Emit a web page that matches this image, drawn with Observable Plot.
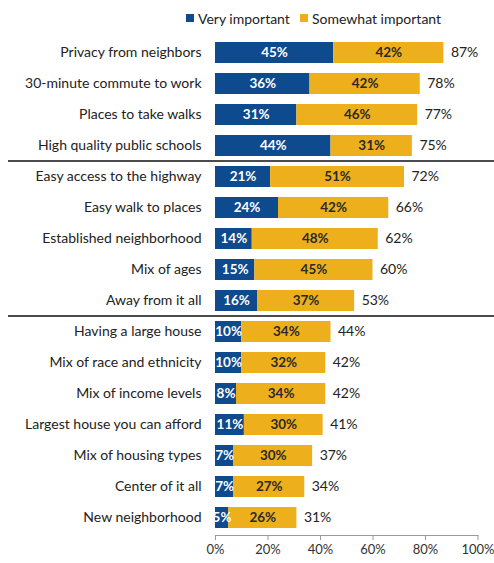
<!DOCTYPE html>
<html>
<head>
<meta charset="utf-8">
<script src="https://cdn.jsdelivr.net/npm/d3@7"></script>
<script src="https://cdn.jsdelivr.net/npm/@observablehq/plot@0.6"></script>
<style>
  body { margin: 0; background: #fff; font-family: Lato, "Open Sans", sans-serif; }
  #legend { position: relative; height: 30px; font-size: 14px; color: #222; }
  #legend .sw { width: 8px; height: 8px; display: inline-block; margin-right: 4px; }
  #legend .item { position: absolute; top: 3px; height: 30px; display: flex; align-items: center; white-space: nowrap; }
</style>
</head>
<body>
<div id="legend"></div>
<div id="chart"></div>
<script>
const categories = [
  "Privacy from neighbors", "30-minute commute to work", "Places to take walks", "High quality public schools",
  "Easy access to the highway", "Easy walk to places", "Established neighborhood", "Mix of ages", "Away from it all",
  "Having a large house", "Mix of race and ethnicity", "Mix of income levels", "Largest house you can afford",
  "Mix of housing types", "Center of it all", "New neighborhood"
];
const veryImportant     = [45, 36, 31, 44, 21, 24, 14, 15, 16, 10, 10, 8, 11, 7, 7, 5];
const somewhatImportant = [42, 42, 46, 31, 51, 42, 48, 45, 37, 34, 32, 34, 30, 30, 27, 26];
const totals            = [87, 78, 77, 75, 72, 66, 62, 60, 53, 44, 42, 42, 41, 37, 34, 31];
const groupEnds = ["High quality public schools", "Away from it all"];
const levels = ["Very important", "Somewhat important"];
const colors = ["#0D4A8E", "#EDB01C"];
const xTicks = [0, 20, 40, 60, 80, 100];
const legendLeft = [186, 300];

// legend
const legend = document.getElementById("legend");
levels.forEach((l, i) => {
  const item = document.createElement("span");
  item.className = "item";
  item.style.left = legendLeft[i] + "px";
  item.innerHTML = `<span class="sw" style="background:${colors[i]}"></span>${l}`;
  legend.appendChild(item);
});

const rows = categories.map((c, i) => ({category: c, very: veryImportant[i], somewhat: somewhatImportant[i], total: totals[i]}));
const segs = rows.flatMap(r => [
  {category: r.category, level: levels[0], value: r.very},
  {category: r.category, level: levels[1], value: r.somewhat}
]);

function separators(index, scales, values, dimensions) {
  const y = scales.y;
  const bw = typeof y.bandwidth === "function" ? y.bandwidth() : (y.bandwidth ?? 0);
  const g = d3.create("svg:g");
  for (const name of groupEnds) {
    const i = categories.indexOf(name);
    const next = categories[i + 1];
    const yy = (y(name) + y(next)) / 2 + bw / 2;
    g.append("line")
      .attr("x1", 8).attr("x2", dimensions.width)
      .attr("y1", yy).attr("y2", yy)
      .attr("stroke", "#111").attr("stroke-width", 1.3);
  }
  return g.node();
}

const chart = Plot.plot({
  width: 494,
  height: 533,
  marginLeft: 215,
  marginRight: 16.5,
  marginTop: 4,
  marginBottom: 28,
  style: {fontFamily: "Lato, 'Open Sans', sans-serif", fontSize: "14px", color: "#222", background: "#fff"},
  x: {domain: [0, 100]},
  y: {domain: categories, paddingInner: 0.33, paddingOuter: 0.2},
  color: {domain: levels, range: colors},
  marks: [
    Plot.barX(segs, Plot.stackX({x: "value", y: "category", fill: "level"})),
    Plot.text(rows, {x: d => d.very / 2, y: "category", text: d => d.very + "%", fill: "white", fontWeight: "bold", fontSize: 13.5}),
    Plot.text(rows, {x: d => d.very + d.somewhat / 2, y: "category", text: d => d.somewhat + "%", fill: "#2a2a2a", fontWeight: "bold", fontSize: 13.5}),
    Plot.text(rows, {x: "total", y: "category", text: d => d.total + "%", textAnchor: "start", dx: 7, fill: "#222", fontSize: 14}),
    Plot.axisY({tickSize: 0, tickPadding: 14, label: null, fill: "#222", fontSize: 14}),
    Plot.axisX({ticks: xTicks, tickFormat: d => d + "%", tickSize: 5, tickPadding: 4, label: null, stroke: "#999", fill: "#333", fontSize: 13}),
    Plot.frame({anchor: "bottom", stroke: "#999"}),
    separators
  ]
});
document.getElementById("chart").appendChild(chart);
</script>
</body>
</html>
